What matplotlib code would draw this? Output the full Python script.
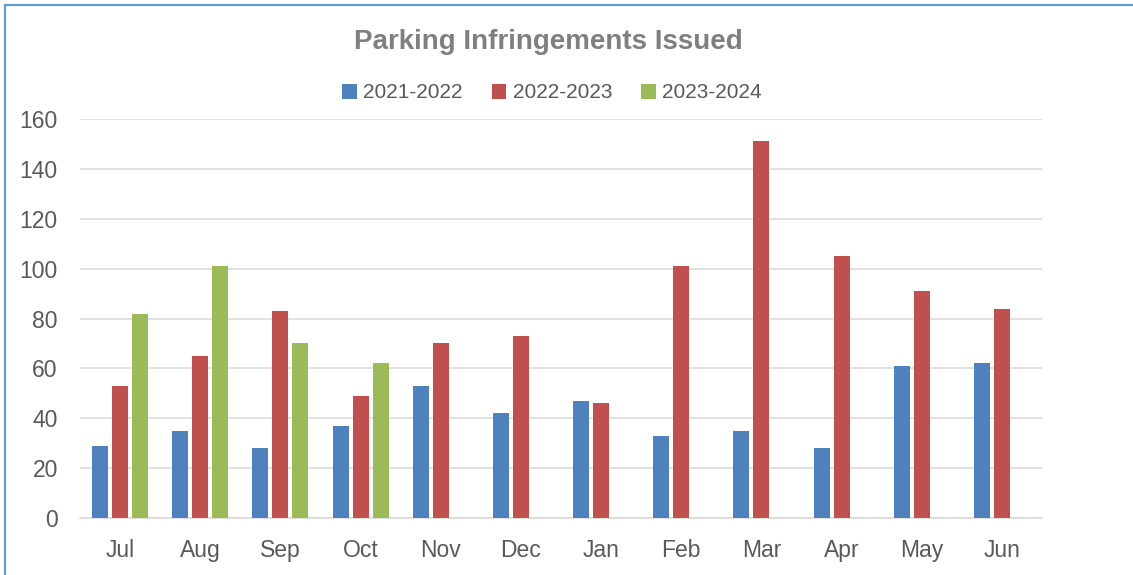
import matplotlib
matplotlib.use("Agg")
import matplotlib.pyplot as plt
from matplotlib.lines import Line2D
import numpy as np

months = ["Jul", "Aug", "Sep", "Oct", "Nov", "Dec", "Jan", "Feb", "Mar", "Apr", "May", "Jun"]
series_names = ["2021-2022", "2022-2023", "2023-2024"]
s2122 = [29, 35, 28, 37, 53, 42, 47, 33, 35, 28, 61, 62]
s2223 = [53, 65, 83, 49, 70, 73, 46, 101, 151, 105, 91, 84]
s2324 = [82, 101, 70, 62, None, None, None, None, None, None, None, None]
colors = ["#4F81BD", "#C0504D", "#9BBB59"]
yticks = [0, 20, 40, 60, 80, 100, 120, 140, 160]

plt.rcParams['font.family'] = ['Liberation Sans', 'DejaVu Sans']

W, H = 1133, 575
fig = plt.figure(figsize=(W / 100, H / 100), dpi=100)
fig.patch.set_facecolor("white")

ax = fig.add_axes([80 / W, (H - 518) / H, (1042 - 80) / W, (518 - 119) / H])

x = np.arange(len(months))
slot = 0.25
bw = 0.2
handles = []
for i, (vals, c) in enumerate(zip([s2122, s2223, s2324], colors)):
    xs = [xi + (i - 1) * slot for xi, v in zip(x, vals) if v is not None]
    vs = [v for v in vals if v is not None]
    h = ax.bar(xs, vs, width=bw, color=c, edgecolor="none", zorder=3, label=series_names[i])
    handles.append(h)

ax.set_xlim(-0.5, len(months) - 0.5)
ax.set_ylim(0, 160)
ax.set_yticks(yticks)
ax.set_xticks(x)
ax.set_xticklabels(months)
ax.yaxis.grid(True, color="#D9D9D9", linewidth=1.1, zorder=0)
ax.set_axisbelow(True)
for sp in ["top", "right", "left"]:
    ax.spines[sp].set_visible(False)
ax.spines["bottom"].set_color("#D9D9D9")
ax.spines["bottom"].set_linewidth(1.1)
ax.tick_params(axis="both", length=0, labelsize=16.5, labelcolor="#595959")
ax.tick_params(axis="x", pad=15)
ax.tick_params(axis="y", pad=16)

fig.text(548 / W, 1 - 42 / H, "Parking Infringements Issued", ha="center", va="center",
         fontsize=20, fontweight="bold", color="#7F7F7F")

leg = fig.legend(handles=handles, labels=series_names, loc="center", bbox_to_anchor=(552 / W, 1 - 93 / H),
                 ncol=3, frameon=False, fontsize=15, handlelength=0.7, handleheight=0.7,
                 handletextpad=0.3, columnspacing=1.4, labelcolor="#595959")

# outer border (left and top visible)
fig.add_artist(Line2D([4.5 / W, 4.5 / W], [0, 1 - 4.5 / H], transform=fig.transFigure, color="#5B9BD5", linewidth=1.5))
fig.add_artist(Line2D([4.5 / W, 1], [1 - 4.5 / H, 1 - 4.5 / H], transform=fig.transFigure, color="#5B9BD5", linewidth=1.5))

fig.savefig("out.png", dpi=100, facecolor="white")
